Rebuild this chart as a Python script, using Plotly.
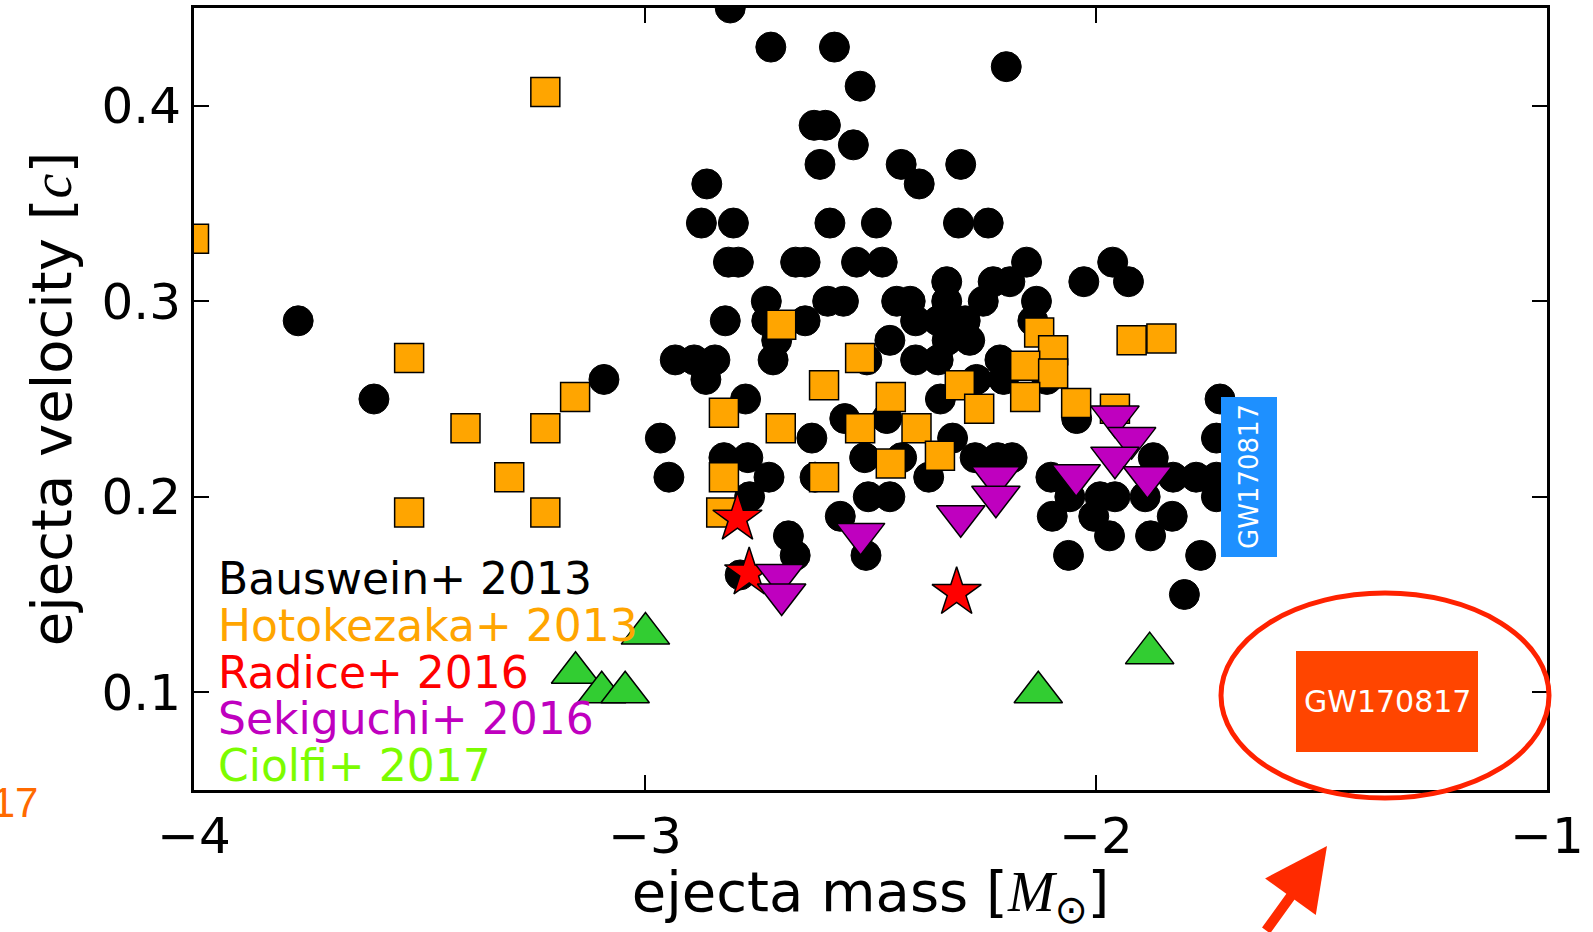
import plotly.graph_objects as go

# ---------------- data ----------------
bauswein_mass = [
    -3.769, -3.601, -3.091,
    -2.811, -2.721, -2.580, -2.199, -2.523, -2.625, -2.600, -2.538,
    -2.612, -2.432, -2.300, -2.863, -2.392,
    -2.875, -2.804, -2.590, -2.487, -2.305, -2.239,
    -2.815, -2.793, -2.666, -2.645, -2.531, -2.474, -2.154, -1.963,
    -2.331, -2.228, -2.191, -2.027, -1.928,
    -2.731, -2.595, -2.560, -2.442, -2.412, -2.331, -2.250, -2.132,
    -2.822, -2.730, -2.645, -2.400, -2.350, -2.290, -2.140,
    -2.708, -2.457, -2.330, -2.280,
    -2.933, -2.891, -2.845, -2.716, -2.508, -2.400, -2.350, -2.213,
    -2.865, -2.265, -2.205, -2.109,
    -2.777, -2.345, -1.725,
    -2.557, -2.464, -2.043,
    -2.966, -2.630, -2.318, -1.733,
    -2.825, -2.772, -2.513, -2.431, -2.268, -2.218, -2.186, -1.873,
    -2.947, -2.725, -2.623, -2.371, -2.100, -1.829, -1.778, -1.733,
    -2.768, -2.505, -2.457, -2.058, -1.991, -1.958, -1.891, -1.733,
    -2.567, -2.097, -2.005, -1.831,
    -2.682, -1.970, -1.879,
    -2.667, -2.510, -2.061, -1.768,
    -2.789,
    -1.804,
]
bauswein_vel = [
    0.29, 0.25, 0.26,
    0.45, 0.43, 0.43, 0.42, 0.41, 0.39, 0.39, 0.38,
    0.37, 0.37, 0.37, 0.36, 0.36,
    0.34, 0.34, 0.34, 0.34, 0.34, 0.34,
    0.32, 0.32, 0.32, 0.32, 0.32, 0.32, 0.32, 0.32,
    0.31, 0.31, 0.31, 0.31, 0.31,
    0.30, 0.30, 0.30, 0.30, 0.30, 0.30, 0.30, 0.30,
    0.29, 0.29, 0.29, 0.29, 0.29, 0.29, 0.29,
    0.28, 0.28, 0.28, 0.28,
    0.27, 0.27, 0.27, 0.27, 0.27, 0.27, 0.27, 0.27,
    0.26, 0.26, 0.26, 0.26,
    0.25, 0.25, 0.25,
    0.24, 0.24, 0.24,
    0.23, 0.23, 0.23, 0.23,
    0.22, 0.22, 0.22, 0.22, 0.22, 0.22, 0.22, 0.22,
    0.21, 0.21, 0.21, 0.21, 0.21, 0.21, 0.21, 0.21,
    0.20, 0.20, 0.20, 0.20, 0.20, 0.20, 0.20, 0.20,
    0.19, 0.19, 0.19, 0.19,
    0.18, 0.18, 0.18,
    0.17, 0.17, 0.17, 0.17,
    0.16,
    0.15,
]

hotokezaka_mass = [
    -4.000, -3.221, -3.523, -3.155, -3.398, -3.221, -3.301, -3.523, -3.221,
    -2.698, -2.825, -2.699, -2.825, -2.831, -2.603, -2.603,
    -2.523, -2.455, -2.523, -2.398, -2.455, -2.346, -2.302, -2.259,
    -2.126, -2.095, -2.157, -2.095, -2.157, -2.044, -1.958, -1.921, -1.855,
]
hotokezaka_vel = [
    0.332, 0.407, 0.271, 0.251, 0.235, 0.235, 0.210, 0.192, 0.192,
    0.288, 0.243, 0.235, 0.210, 0.192, 0.257, 0.210,
    0.271, 0.251, 0.235, 0.235, 0.217, 0.221, 0.257, 0.245,
    0.284, 0.275, 0.267, 0.263, 0.251, 0.248, 0.245, 0.280, 0.281,
]

radice_mass = [-2.795, -2.769, -2.309]
radice_vel = [0.189, 0.161, 0.151]

sekiguchi_mass = [-2.701, -2.697, -2.522, -2.300, -2.222, -2.222,
                  -2.044, -1.958, -1.921, -1.958, -1.886]
sekiguchi_vel = [0.160, 0.150, 0.181, 0.190, 0.210, 0.200,
                 0.211, 0.241, 0.230, 0.220, 0.210]

ciolfi_mass = [-3.154, -3.096, -3.044, -2.999, -2.128, -1.881]
ciolfi_vel = [0.110, 0.100, 0.100, 0.130, 0.100, 0.120]

legend_labels = ["Bauswein+ 2013", "Hotokezaka+ 2013", "Radice+ 2016",
                 "Sekiguchi+ 2016", "Ciolfi+ 2017"]
legend_colors = ["#000000", "#ffa500", "#ff0000", "#bf00bf", "#7cfc00"]

x_ticks = [-4, -3, -2, -1]
y_ticks = [0.1, 0.2, 0.3, 0.4]

# ---------------- figure ----------------
W, H = 1593, 932
PL, PR, PT, PB = 194, 1547, 8, 790   # plot area in pixels
FONT = "DejaVu Sans"


def px(xp):
    return (xp - PL) / (PR - PL)


def py(yp):
    return (PB - yp) / (PB - PT)


fig = go.Figure()
edge = dict(color="black", width=1.5)
fig.add_trace(go.Scatter(x=bauswein_mass, y=bauswein_vel, mode="markers",
                         marker=dict(symbol="circle", size=30, color="black",
                                     line=dict(color="black", width=1)),
                         hoverinfo="skip", showlegend=False))
fig.add_trace(go.Scatter(x=hotokezaka_mass, y=hotokezaka_vel, mode="markers",
                         marker=dict(symbol="square", size=29, color="#ffa500", line=edge),
                         hoverinfo="skip", showlegend=False))
fig.add_trace(go.Scatter(x=radice_mass, y=radice_vel, mode="markers",
                         marker=dict(symbol="star", size=37, color="#ff0000", line=edge),
                         hoverinfo="skip", showlegend=False))
fig.add_trace(go.Scatter(x=sekiguchi_mass, y=sekiguchi_vel, mode="markers",
                         marker=dict(symbol="triangle-down", size=42, color="#bf00bf", line=edge),
                         hoverinfo="skip", showlegend=False))
fig.add_trace(go.Scatter(x=ciolfi_mass, y=ciolfi_vel, mode="markers",
                         marker=dict(symbol="triangle-up", size=42, color="#32cd32", line=edge),
                         hoverinfo="skip", showlegend=False))

axis_common = dict(
    showline=True, linecolor="black", linewidth=3, mirror="ticks",
    ticks="inside", ticklen=15, tickwidth=2, tickcolor="black",
    showgrid=False, zeroline=False,
    tickfont=dict(family=FONT, size=50, color="black"),
)

fig.update_xaxes(range=[-4, -1], tickvals=x_ticks, **axis_common,
                 title=dict(text="ejecta mass [<span style='font-family:Liberation Serif'><i>M</i></span><sub>⊙</sub>]",
                            font=dict(family=FONT, size=56, color="black"), standoff=8))
fig.update_yaxes(range=[0.05, 0.45], tickvals=y_ticks, tickformat=".1f", **axis_common,
                 title=dict(text="ejecta velocity [<span style='font-family:Liberation Serif'><i>c</i></span>]",
                            font=dict(family=FONT, size=56, color="black"), standoff=12))

annotations = []
legend_y = [578, 625, 672, 718, 765]
for lab, col, yy in zip(legend_labels, legend_colors, legend_y):
    annotations.append(dict(xref="paper", yref="paper", x=px(216), y=py(yy),
                            xanchor="left", yanchor="middle", text=lab, showarrow=False,
                            font=dict(family=FONT, size=44, color=col)))

# blue rotated label box
annotations.append(dict(xref="paper", yref="paper", x=px(1249), y=py(477),
                        xanchor="center", yanchor="middle", text="GW170817", textangle=-90,
                        showarrow=False, font=dict(family=FONT, size=26, color="white")))
# orange-red label box text
annotations.append(dict(xref="paper", yref="paper", x=px(1387), y=py(701),
                        xanchor="center", yanchor="middle", text="GW170817",
                        showarrow=False, font=dict(family=FONT, size=30, color="white")))
# red arrow
annotations.append(dict(xref="paper", yref="paper", x=px(1327), y=py(846),
                        ax=-62, ay=96, axref="pixel", ayref="pixel", text="",
                        showarrow=True, arrowhead=2, arrowsize=1.25, arrowwidth=10,
                        arrowcolor="#ff2a00"))
# cut-off orange label at left edge
annotations.append(dict(xref="paper", yref="paper", x=px(40), y=py(802),
                        xanchor="right", yanchor="middle", text="GW170817",
                        showarrow=False, font=dict(family="Liberation Sans", size=42, color="#ff6a00")))

shapes = [
    dict(type="rect", xref="paper", yref="paper", x0=px(1221), x1=px(1277),
         y0=py(557), y1=py(397), fillcolor="#1e90ff", line=dict(width=0), layer="above"),
    dict(type="rect", xref="paper", yref="paper", x0=px(1296), x1=px(1478),
         y0=py(752), y1=py(651), fillcolor="#ff4500", line=dict(width=0), layer="above"),
    dict(type="circle", xref="paper", yref="paper", x0=px(1221), x1=px(1549),
         y0=py(798), y1=py(593), line=dict(color="#ff2200", width=5), layer="above"),
]

fig.update_layout(
    width=W, height=H,
    margin=dict(l=PL, r=W - PR, t=PT, b=H - PB, autoexpand=False),
    paper_bgcolor="white", plot_bgcolor="white",
    showlegend=False,
    annotations=annotations, shapes=shapes,
    font=dict(family=FONT),
)
fig.write_html("out.html")
